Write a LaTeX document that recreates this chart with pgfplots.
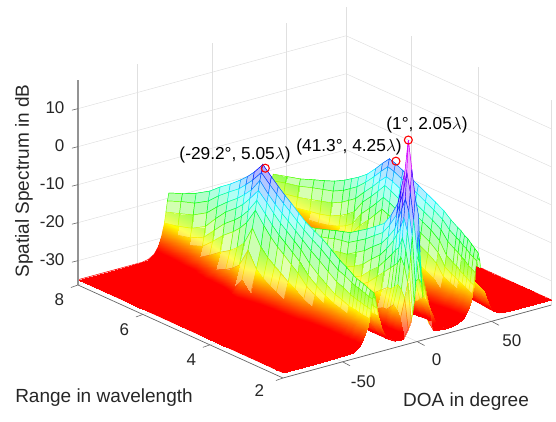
\documentclass[border=0pt]{standalone}
\usepackage{fontspec}
\setmainfont{Liberation Sans}
\usepackage{pgfplots}
\pgfplotsset{compat=1.18}
\definecolor{axgray}{rgb}{0.15,0.15,0.15}
\def\thetas{-90,-65,-47,-43,-39,-36,-34,-33,-32,-31,-30,-29,-28,-27,-26,-25,-24,-22,-19,-15,-11,-9,-6,-4,-3,-2,-1,0,1,2,3,4,5,6,8,11,15,19,23,27,31,34,36,37,38,39,40,41,42,43,44,45,46,48,51,55,59,65,90}
\def\allcoords{}
\def\popth#1,#2\endpop{\def\curth{#1}\def\remth{#2}}
\def\zloop#1,{\ifx\relax#1\else\expandafter\popth\remth\endpop\xdef\allcoords{\allcoords(\curth,\curR,#1)}\expandafter\zloop\fi}
\def\addrow#1#2{\def\curR{#1}\edef\remth{\thetas,}\zloop#2,\relax,}
\addrow{8}{-35,-35,-35,-34.7,-33.8,-32,-29.7,-28,-26.3,-23.5,-20.7,-18.7,-20.7,-23.5,-26.3,-28,-29.7,-32,-33.8,-34.7,-35,-34,-32.3,-30.7,-29.5,-28,-26,-24.3,-23,-24.3,-26,-28,-29.5,-30.7,-32.3,-34,-34.8,-35,-35,-34.7,-33.8,-32,-30.3,-29,-27.5,-25.4,-22.8,-21.2,-22.8,-25.4,-27.5,-29,-30.3,-32,-33.8,-34.7,-35,-35,-35}
\addrow{7.6}{-35,-35,-35,-34.7,-33.7,-31.8,-29.5,-27.7,-25.5,-22.3,-19.2,-17.2,-19.2,-22.3,-25.5,-27.7,-29.5,-31.8,-33.7,-34.7,-35,-34,-32.3,-30.6,-29.4,-27.8,-25.7,-23.9,-22.6,-23.9,-25.7,-27.8,-29.4,-30.6,-32.3,-34,-34.8,-35,-35,-34.7,-33.8,-32,-30,-28.6,-26.9,-24.5,-21.8,-20.2,-21.8,-24.5,-26.9,-28.6,-30,-32,-33.8,-34.7,-35,-35,-35}
\addrow{7.2}{-35,-35,-35,-34.6,-33.5,-31.1,-28.7,-26.8,-24.4,-21,-18,-15.5,-18,-21,-24.4,-26.8,-28.7,-31.1,-33.5,-34.6,-35,-34,-32.3,-30.5,-29.3,-27.6,-25.4,-23.5,-22.2,-23.5,-25.4,-27.6,-29.3,-30.5,-32.3,-34,-34.8,-35,-35,-34.7,-33.8,-32,-29.8,-28.3,-26.5,-23.8,-21,-19.2,-21,-23.8,-26.5,-28.3,-29.8,-32,-33.8,-34.7,-35,-35,-35}
\addrow{6.8}{-35,-35,-35,-34.5,-33,-30,-27.3,-25,-22.3,-18.8,-15.8,-13.3,-15.8,-18.8,-22.3,-25,-27.3,-30,-33,-34.5,-35,-33.9,-32.2,-30.4,-29.1,-27.6,-25.4,-23.2,-21.8,-23.2,-25.4,-27.6,-29.1,-30.4,-32.2,-33.9,-34.8,-35,-35,-34.7,-33.8,-31.9,-29.6,-27.9,-25.8,-22.8,-19.8,-17.8,-19.8,-22.8,-25.8,-27.9,-29.6,-31.9,-33.8,-34.7,-35,-35,-35}
\addrow{6.5}{-35,-35,-35,-34.2,-31.8,-28.2,-24.8,-22,-19,-16,-13.2,-11,-13.2,-16,-19,-22,-24.8,-28.2,-31.8,-34.2,-35,-33.9,-32.2,-30.3,-29,-27.4,-25.2,-22.9,-21.4,-22.9,-25.2,-27.4,-29,-30.3,-32.2,-33.9,-34.8,-35,-35,-34.6,-33.7,-31.7,-29.3,-27.5,-25.3,-22,-19,-16.8,-19,-22,-25.3,-27.5,-29.3,-31.7,-33.7,-34.6,-35,-35,-35}
\addrow{6.2}{-35,-35,-35,-33.9,-30.5,-26.2,-22,-19,-16,-13.5,-11,-9,-11,-13.5,-16,-19,-22,-26.2,-30.5,-33.9,-35,-33.9,-32.1,-30.2,-28.8,-27.2,-24.9,-22.5,-21,-22.5,-24.9,-27.2,-28.8,-30.2,-32.1,-33.9,-34.8,-35,-35,-34.6,-33.5,-31.2,-28.8,-26.9,-24.5,-21.2,-18.2,-15.7,-18.2,-21.2,-24.5,-26.9,-28.8,-31.2,-33.5,-34.6,-35,-35,-35}
\addrow{5.9}{-35,-35,-34.9,-33.5,-29.2,-24.5,-19.8,-16.8,-13.8,-11.3,-8.9,-6.7,-8.9,-11.3,-13.8,-16.8,-19.8,-24.5,-29.2,-33.5,-34.9,-33.8,-32,-30.1,-28.7,-27,-24.7,-22.1,-20.5,-22.1,-24.7,-27,-28.7,-30.1,-32,-33.8,-34.7,-35,-35,-34.5,-33.3,-30.7,-28,-25.9,-23.2,-19.8,-16.8,-14.2,-16.8,-19.8,-23.2,-25.9,-28,-30.7,-33.3,-34.5,-35,-35,-35}
\addrow{5.7}{-35,-35,-34.8,-33,-28,-23,-18,-15,-12,-9.5,-7,-5,-7,-9.5,-12,-15,-18,-23,-28,-33,-34.8,-33.8,-32,-30,-28.6,-26.9,-24.5,-21.8,-20.2,-21.8,-24.5,-26.9,-28.6,-30,-32,-33.8,-34.7,-35,-35,-34.5,-33,-30,-27.2,-25,-22,-18.5,-15.5,-13,-15.5,-18.5,-22,-25,-27.2,-30,-33,-34.5,-35,-35,-35}
\addrow{5.5}{-35,-35,-34.7,-32.2,-26.4,-21,-15.7,-12.7,-9.7,-7.5,-5,-3,-5,-7.5,-9.7,-12.7,-15.7,-21,-26.4,-32.2,-34.6,-33.8,-32,-30,-28.5,-26.8,-24.4,-21.6,-20,-21.6,-24.4,-26.8,-28.5,-30,-32,-33.8,-34.7,-35,-35,-34.3,-32.3,-29.2,-26.2,-23.6,-20.6,-17.2,-14.2,-11.8,-14.2,-17.2,-20.6,-23.6,-26.2,-29.2,-32.3,-34.3,-35,-35,-35}
\addrow{5.25}{-35,-35,-33.5,-29,-21.5,-16,-11.5,-9,-6.5,-4,-2,0,-2,-4,-6.5,-9,-11.5,-16,-21.5,-29,-34.4,-33.8,-32,-29.9,-28.4,-26.6,-24,-21.2,-19.5,-21.2,-24,-26.6,-28.4,-29.9,-32,-33.8,-34.7,-35,-35,-34,-31,-27,-23,-20,-17,-14.5,-12,-10,-12,-14.5,-17,-20,-23,-27,-31,-34,-35,-35,-35}
\addrow{5}{-35,-35,-34.5,-31.7,-25.5,-20,-14.5,-11.6,-8.7,-6.6,-4.2,-2.2,-4.2,-6.6,-8.7,-11.6,-14.5,-20,-25.5,-31.7,-34.6,-33.8,-32,-29.8,-28.2,-26.4,-23.7,-20.8,-19,-20.8,-23.7,-26.4,-28.2,-29.8,-32,-33.8,-34.7,-35,-35,-33.7,-29.7,-25.1,-20.5,-17.5,-14.5,-12,-9.5,-7.5,-9.5,-12,-14.5,-17.5,-20.5,-25.1,-29.7,-33.7,-35,-35,-35}
\addrow{4.8}{-35,-35,-34.8,-32.6,-27.2,-21.9,-16.7,-13.7,-10.7,-8.4,-5.9,-3.9,-5.9,-8.4,-10.7,-13.7,-16.7,-21.9,-27.2,-32.6,-34.8,-33.8,-32,-29.8,-28.1,-26.1,-23.2,-20.3,-18.4,-20.3,-23.2,-26.1,-28.1,-29.8,-32,-33.8,-34.7,-35,-34.8,-33,-28.2,-23.2,-18.3,-15.3,-12.3,-9.8,-7.3,-5.3,-7.3,-9.8,-12.3,-15.3,-18.3,-23.2,-28.2,-33,-34.8,-35,-35}
\addrow{4.6}{-35,-35,-34.8,-33.1,-28.3,-23.4,-18.5,-15.5,-12.5,-10,-7.5,-5.5,-7.5,-10,-12.5,-15.5,-18.5,-23.4,-28.3,-33.1,-34.8,-33.8,-31.9,-29.6,-27.9,-25.8,-22.8,-19.8,-17.8,-19.8,-22.8,-25.8,-27.9,-29.6,-31.9,-33.8,-34.7,-35,-34.7,-32.3,-26.7,-21.3,-16,-13,-10,-7.8,-5.3,-3.3,-5.3,-7.8,-10,-13,-16,-21.3,-26.7,-32.3,-34.7,-35,-35}
\addrow{4.42}{-35,-35,-34.9,-33.5,-29.2,-24.5,-19.8,-16.8,-13.8,-11.3,-8.8,-6.8,-8.8,-11.3,-13.8,-16.8,-19.8,-24.5,-29.2,-33.5,-34.9,-33.7,-31.8,-29.5,-27.7,-25.5,-22.3,-19.2,-17.2,-19.2,-22.3,-25.5,-27.7,-29.5,-31.8,-33.7,-34.7,-35,-34.8,-32.6,-27.2,-22,-16.7,-13.7,-10.7,-8.3,-5.8,-3.8,-5.8,-8.3,-10.7,-13.7,-16.7,-22,-27.2,-32.6,-34.8,-35,-35}
\addrow{4.2}{-35,-35,-35,-33.8,-30.3,-25.9,-21.5,-18.5,-15.5,-13,-10.5,-8.5,-10.5,-13,-15.5,-18.5,-21.5,-25.9,-30.3,-33.8,-35,-33.7,-31.6,-29.2,-27.3,-25.1,-21.8,-18.8,-16.6,-18.8,-21.8,-25.1,-27.3,-29.2,-31.6,-33.7,-34.6,-35,-34.8,-32.9,-27.8,-22.8,-17.8,-14.8,-11.8,-9.3,-6.8,-4.8,-6.8,-9.3,-11.8,-14.8,-17.8,-22.8,-27.8,-32.9,-34.8,-35,-35}
\addrow{4}{-35,-35,-35,-34,-31,-27,-23,-20,-17,-14.5,-12,-10,-12,-14.5,-17,-20,-23,-27,-31,-34,-35,-33.6,-31.3,-28.9,-27,-24.7,-21.5,-18.5,-16,-18.5,-21.5,-24.7,-27,-28.9,-31.3,-33.6,-34.6,-35,-34.9,-33.1,-28.4,-23.6,-18.7,-15.7,-12.7,-10.2,-7.7,-5.7,-7.7,-10.2,-12.7,-15.7,-18.7,-23.6,-28.4,-33.1,-34.9,-35,-35}
\addrow{3.75}{-35,-35,-35,-34.3,-32,-28.7,-25.4,-22.6,-19.6,-16.4,-13.6,-11.3,-13.6,-16.4,-19.6,-22.6,-25.4,-28.7,-32,-34.3,-35,-33.3,-30.8,-28.2,-26.1,-23.5,-20,-17,-14.5,-17,-20,-23.5,-26.1,-28.2,-30.8,-33.3,-34.6,-35,-34.9,-33.5,-29.2,-24.5,-19.8,-16.8,-13.8,-11.3,-8.8,-6.8,-8.8,-11.3,-13.8,-16.8,-19.8,-24.5,-29.2,-33.5,-34.9,-35,-35}
\addrow{3.5}{-35,-35,-35,-34.4,-32.7,-29.7,-26.8,-24.4,-21.5,-18,-15,-12.5,-15,-18,-21.5,-24.4,-26.8,-29.7,-32.7,-34.4,-35,-33,-30,-27.2,-25,-22,-18.5,-15.5,-13,-15.5,-18.5,-22,-25,-27.2,-30,-33,-34.5,-35,-35,-33.8,-30,-25.5,-21,-18,-15,-12.5,-10,-8,-10,-12.5,-15,-18,-21,-25.5,-30,-33.8,-35,-35,-35}
\addrow{3.25}{-35,-35,-35,-34.5,-33.3,-30.7,-28,-25.9,-23.2,-19.8,-16.8,-14.2,-16.8,-19.8,-23.2,-25.9,-28,-30.7,-33.3,-34.5,-35,-32,-28.7,-25.4,-22.6,-19.6,-16.4,-13.6,-11.3,-13.6,-16.4,-19.6,-22.6,-25.4,-28.7,-32,-34.3,-35,-35,-33.9,-30.6,-26.4,-22.2,-19.2,-16.2,-13.7,-11.2,-9.2,-11.2,-13.7,-16.2,-19.2,-22.2,-26.4,-30.6,-33.9,-35,-35,-35}
\addrow{3}{-35,-35,-35,-34.6,-33.6,-31.3,-28.9,-27,-24.7,-21.5,-18.5,-16,-18.5,-21.5,-24.7,-27,-28.9,-31.3,-33.6,-34.6,-34.6,-31,-27,-23,-20.5,-17.5,-14.5,-11.8,-9.5,-11.8,-14.5,-17.5,-20.5,-23,-27,-31,-33.9,-35,-35,-34.1,-31.4,-27.6,-23.8,-21,-18,-15.2,-12.6,-10.5,-12.6,-15.2,-18,-21,-23.8,-27.6,-31.4,-34.1,-35,-35,-35}
\addrow{2.8}{-35,-35,-35,-34.6,-33.7,-31.6,-29.3,-27.5,-25.3,-22.2,-19.2,-17,-19.2,-22.2,-25.3,-27.5,-29.3,-31.6,-33.7,-34.6,-34.3,-30,-25.5,-21,-18,-15,-12,-9,-6.5,-9,-12,-15,-18,-21,-25.5,-30,-33.5,-34.9,-35,-34.4,-32.5,-29.5,-26.5,-24,-21,-17.5,-14.5,-12,-14.5,-17.5,-21,-24,-26.5,-29.5,-32.5,-34.4,-35,-35,-35}
\addrow{2.6}{-35,-35,-35,-34.7,-33.8,-32,-29.8,-28.1,-26.1,-23.2,-20.2,-18.3,-20.2,-23.2,-26.1,-28.1,-29.8,-32,-33.8,-34.7,-34,-29,-24,-19,-15.5,-12,-9,-5.5,-2.5,-5.5,-9,-12,-15.5,-19,-24,-29,-33,-34.7,-35,-34.5,-33,-30.1,-27.3,-25.1,-22.2,-18.7,-15.7,-13.2,-15.7,-18.7,-22.2,-25.1,-27.3,-30.1,-33,-34.5,-35,-35,-35}
\addrow{2.5}{-35,-35,-35,-34.7,-33.8,-32,-29.8,-28.2,-26.3,-23.5,-20.6,-18.8,-20.6,-23.5,-26.3,-28.2,-29.8,-32,-33.8,-34.7,-34,-29,-24,-18,-14,-10,-6,-2,2,-2,-6,-10,-14,-18,-24,-29,-33,-34.7,-35,-34.5,-33.2,-30.4,-27.7,-25.4,-22.7,-19.2,-16.2,-13.7,-16.2,-19.2,-22.7,-25.4,-27.7,-30.4,-33.2,-34.5,-35,-35,-35}
\addrow{2.4}{-35,-35,-35,-34.7,-33.8,-32,-29.9,-28.3,-26.4,-23.8,-20.8,-19.1,-20.8,-23.8,-26.4,-28.3,-29.9,-32,-33.8,-34.7,-34,-28,-23,-17,-13,-8,-3,1.5,6.5,1.5,-3,-8,-13,-17,-23,-28,-33,-34.7,-35,-34.6,-33.3,-30.8,-28.2,-26.1,-23.5,-20,-17,-14.5,-17,-20,-23.5,-26.1,-28.2,-30.8,-33.3,-34.6,-35,-35,-35}
\addrow{2.3}{-35,-35,-35,-34.7,-33.8,-32,-29.9,-28.4,-26.6,-24,-21.2,-19.4,-21.2,-24,-26.6,-28.4,-29.9,-32,-33.8,-34.7,-33.8,-27,-22,-15,-10,-5,0,7,15.3,7,0,-5,-10,-15,-22,-27,-33,-34.5,-35,-34.6,-33.5,-31,-28.5,-26.5,-24,-20.5,-17.5,-15,-17.5,-20.5,-24,-26.5,-28.5,-31,-33.5,-34.6,-35,-35,-35}
\addrow{2.2}{-35,-35,-35,-34.7,-33.8,-32,-30,-28.5,-26.8,-24.3,-21.4,-19.8,-21.4,-24.3,-26.8,-28.5,-30,-32,-33.8,-34.7,-34,-28,-23,-17,-13,-8,-3,2,8,2,-3,-8,-13,-17,-23,-28,-33,-34.7,-35,-34.6,-33.6,-31.3,-28.9,-26.9,-24.6,-21.4,-18.4,-15.9,-18.4,-21.4,-24.6,-26.9,-28.9,-31.3,-33.6,-34.6,-35,-35,-35}
\addrow{2.1}{-35,-35,-35,-34.7,-33.8,-32,-30,-28.6,-26.9,-24.5,-21.8,-20.2,-21.8,-24.5,-26.9,-28.6,-30,-32,-33.8,-34.7,-34.2,-30,-25,-21,-18,-14,-9,-5,1,-5,-9,-14,-18,-21,-25,-30,-33.5,-35,-35,-34.6,-33.7,-31.6,-29.2,-27.4,-25.2,-21.9,-18.9,-16.7,-18.9,-21.9,-25.2,-27.4,-29.2,-31.6,-33.7,-34.6,-35,-35,-35}
\addrow{2}{-35,-35,-35,-34.7,-33.8,-32,-30,-28.7,-27,-24.7,-22.1,-20.5,-22.1,-24.7,-27,-28.7,-30,-32,-33.8,-34.7,-34.7,-34.5,-32.5,-30.5,-29,-26,-22,-13,-3.5,-13,-22,-26,-29,-30.5,-32.5,-34.5,-35,-35,-35,-34.7,-33.7,-31.8,-29.5,-27.8,-25.6,-22.5,-19.5,-17.5,-19.5,-22.5,-25.6,-27.8,-29.5,-31.8,-33.7,-34.7,-35,-35,-35}
\begin{document}
\begin{tikzpicture}[x=1pt,y=1pt]
\begin{axis}[
  at={(417.1pt,218.77pt)}, anchor=origin, disabledatascaling,
  x={(1.49pt,0.405pt)}, y={(-34.17pt,15.5pt)}, z={(0pt,3.8pt)},
  xmin=-90,xmax=90,ymin=2,ymax=8,zmin=-36.4,zmax=17.6,
  xtick={-50,0,50}, xticklabels={-50,0,50},
  ytick={2,4.14,6.1,8}, yticklabels={{\hspace*{-14pt}2},4,6,8},
  ztick={-30,-20,-10,0,10}, zticklabels={-30,-20,-10,0,10},
  grid=major, grid style={black!12,line width=0.5pt},
  axis line style={draw=none}, major tick length=0pt,
  tick label style={font=\fontsize{17}{19}\selectfont,text=axgray},
  xticklabel style={xshift=13pt,yshift=-8pt},
  yticklabel style={xshift=-11pt,yshift=-5pt},
  zticklabel style={xshift=-10pt},
  clip=false, unbounded coords=jump,
  colormap={spec}{[1pt] rgb(0pt)=(1,0,0) rgb(3pt)=(1,0,0) rgb(10pt)=(1,1,0) rgb(18pt)=(0,1,0) rgb(26pt)=(0,1,1) rgb(34pt)=(0,0,1) rgb(46pt)=(1,0,1) rgb(52pt)=(1,0,0.6)},
  point meta min=-36, point meta max=16,
  meshpart/.style={surf, shader=faceted, fill=mapped color!30!white, faceted color=mapped color, line width=0.45pt, mesh/cols=59, z buffer=reverse x seq},
  softpart/.style={surf, shader=interp, mesh/cols=59, z buffer=reverse x seq, fill opacity=0.5, restrict z to domain=-40:-20},
  solidpart/.style={surf, shader=interp, mesh/cols=59, z buffer=reverse x seq, restrict z to domain=-40:-25.5},
]
\addplot3[meshpart, restrict x to domain=41:90] coordinates {\allcoords};
\addplot3[softpart, restrict x to domain=41:90] coordinates {\allcoords};
\addplot3[solidpart, restrict x to domain=41:90] coordinates {\allcoords};
\addplot3[meshpart, restrict x to domain=19:41] coordinates {\allcoords};
\addplot3[softpart, restrict x to domain=19:41] coordinates {\allcoords};
\addplot3[solidpart, restrict x to domain=19:41] coordinates {\allcoords};
\addplot3[meshpart, restrict x to domain=1:19] coordinates {\allcoords};
\addplot3[softpart, restrict x to domain=1:19] coordinates {\allcoords};
\addplot3[solidpart, restrict x to domain=1:19] coordinates {\allcoords};
\addplot3[meshpart, restrict x to domain=-15:1] coordinates {\allcoords};
\addplot3[softpart, restrict x to domain=-15:1] coordinates {\allcoords};
\addplot3[solidpart, restrict x to domain=-15:1] coordinates {\allcoords};
\addplot3[meshpart, restrict x to domain=-29:-15] coordinates {\allcoords};
\addplot3[softpart, restrict x to domain=-29:-15] coordinates {\allcoords};
\addplot3[solidpart, restrict x to domain=-29:-15] coordinates {\allcoords};
\addplot3[meshpart, restrict x to domain=-90:-29] coordinates {\allcoords};
\addplot3[softpart, restrict x to domain=-90:-29] coordinates {\allcoords};
\addplot3[solidpart, restrict x to domain=-90:-29] coordinates {\allcoords};
\addplot3[only marks, mark=o, mark size=4pt, mark options={draw=red,line width=1.1pt}] coordinates {(-28.5,5.2,-0.8) (41.3,4.42,-3.2) (1,2.3,15.3)};
\draw[axgray!70,line width=0.7pt] (axis cs:-90,2,-36.4) -- (axis cs:90,2,-36.4);
\draw[axgray!70,line width=0.7pt] (axis cs:-90,2,-36.4) -- (axis cs:-90,8,-36.4);
\draw[axgray!50,line width=1.1pt] (axis cs:-90,8,-36.4) -- (axis cs:-90,8,17.6);
\draw[axgray!70,line width=0.6pt] (axis cs:-50,2,-36.4) -- ++(7.5pt,-4pt);
\draw[axgray!70,line width=0.6pt] (axis cs:0,2,-36.4) -- ++(7.5pt,-4pt);
\draw[axgray!70,line width=0.6pt] (axis cs:50,2,-36.4) -- ++(7.5pt,-4pt);
\draw[axgray!70,line width=0.6pt] (axis cs:-90,2,-36.4) -- ++(-7pt,-2.5pt);
\draw[axgray!70,line width=0.6pt] (axis cs:-90,4.14,-36.4) -- ++(-7pt,-2.5pt);
\draw[axgray!70,line width=0.6pt] (axis cs:-90,6.1,-36.4) -- ++(-7pt,-2.5pt);
\draw[axgray!70,line width=0.6pt] (axis cs:-90,8,-36.4) -- ++(-7pt,-2.5pt);
\draw[axgray!70,line width=0.6pt] (axis cs:-90,8,-30) -- ++(-6pt,-1.5pt);
\draw[axgray!70,line width=0.6pt] (axis cs:-90,8,-20) -- ++(-6pt,-1.5pt);
\draw[axgray!70,line width=0.6pt] (axis cs:-90,8,-10) -- ++(-6pt,-1.5pt);
\draw[axgray!70,line width=0.6pt] (axis cs:-90,8,0) -- ++(-6pt,-1.5pt);
\draw[axgray!70,line width=0.6pt] (axis cs:-90,8,10) -- ++(-6pt,-1.5pt);
\end{axis}
\node[rotate=90,text=axgray,font=\fontsize{19}{21}\selectfont] at (24,241) {Spatial Spectrum in dB};
\node[text=axgray,font=\fontsize{19}{21}\selectfont] at (104,24) {Range in wavelength};
\node[text=axgray,font=\fontsize{19}{21}\selectfont] at (466,20) {DOA in degree};
\node[font=\fontsize{17.3}{19}\selectfont] at (235,267) {(-29.2°, 5.05$\lambda$)};
\node[font=\fontsize{17.3}{19}\selectfont] at (349,275) {(41.3°, 4.25$\lambda$)};
\node[font=\fontsize{17.3}{19}\selectfont] at (427,297) {(1°, 2.05$\lambda$)};
\pgfresetboundingbox
\path[use as bounding box] (0,0) rectangle (556,422);
\end{tikzpicture}
\end{document}
